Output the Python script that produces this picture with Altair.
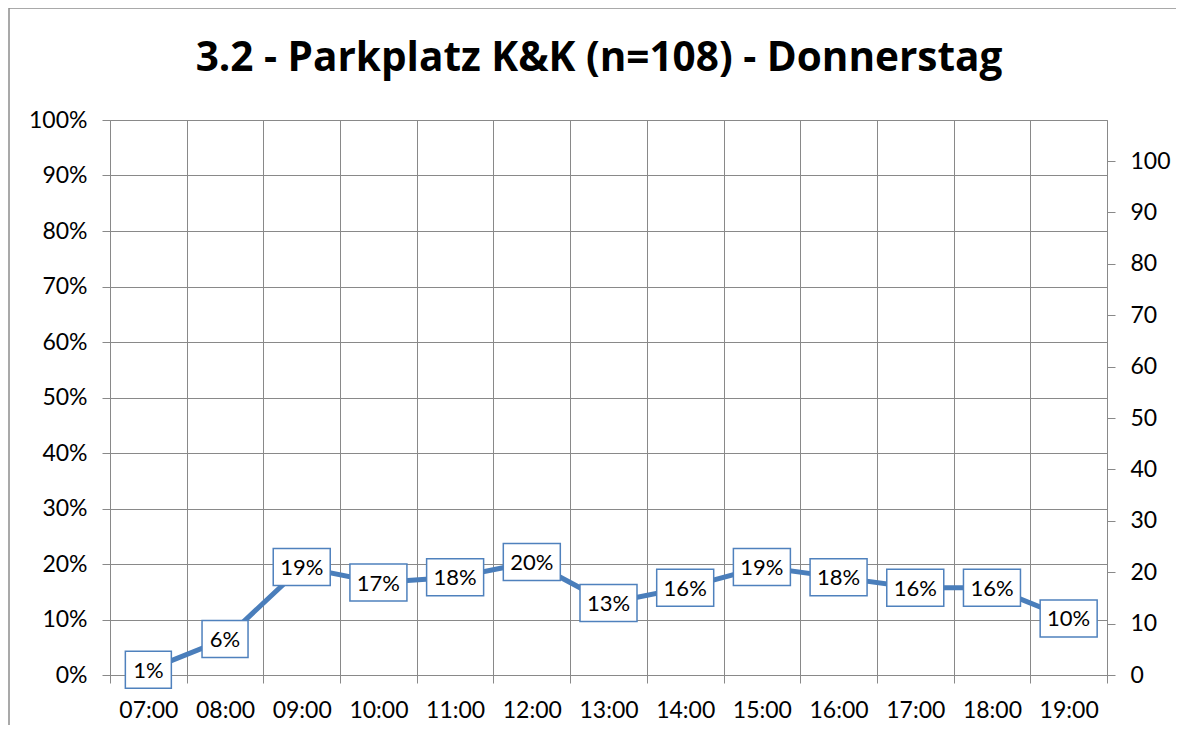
import altair as alt
import pandas as pd

# ---- data ----
times = ["07:00", "08:00", "09:00", "10:00", "11:00", "12:00", "13:00",
         "14:00", "15:00", "16:00", "17:00", "18:00", "19:00"]
counts = [1, 7, 21, 18, 19, 22, 14, 17, 21, 19, 17, 17, 11]
labels = ["1%", "6%", "19%", "17%", "18%", "20%", "13%",
          "16%", "19%", "18%", "16%", "16%", "10%"]
n_total = 108
title_text = "3.2 - Parkplatz K&K (n=108) - Donnerstag"
pct_ticks = [0, 0.1, 0.2, 0.3, 0.4, 0.5, 0.6, 0.7, 0.8, 0.9, 1.0]
count_ticks = [0, 10, 20, 30, 40, 50, 60, 70, 80, 90, 100]

df = pd.DataFrame({"time": times, "count": counts, "label": labels})
df["share"] = df["count"] / n_total
df["chars"] = df["label"].str.len()

GRID = "#898989"
LINE = "#4A7EBB"
BOX = "#4F81BD"
FONT = "Lato"
LABEL_SIZE = 23

x_enc = alt.X(
    "time:N", sort=times,
    scale=alt.Scale(type="band", paddingInner=0, paddingOuter=0),
    axis=alt.Axis(title=None, tickBand="extent", grid=True, gridColor=GRID,
                  gridWidth=1, domainColor=GRID, tickColor=GRID, tickSize=8,
                  labelFont=FONT, labelFontSize=LABEL_SIZE, labelColor="black",
                  labelPadding=16, labelAngle=0),
)

y_share = alt.Y(
    "share:Q",
    scale=alt.Scale(domain=[0, 1], nice=False, zero=True),
    axis=alt.Axis(orient="left", title=None, values=pct_ticks, format=".0%",
                  grid=True, gridColor=GRID, gridWidth=1, domainColor=GRID,
                  tickColor=GRID, tickSize=8, labelFont=FONT,
                  labelFontSize=LABEL_SIZE, labelColor="black", labelPadding=15),
)

y_count = alt.Y(
    "count:Q",
    scale=alt.Scale(domain=[0, n_total], nice=False, zero=True),
    axis=alt.Axis(orient="right", title=None, values=count_ticks, grid=False,
                  domainColor=GRID, tickColor=GRID, tickSize=8, labelFont=FONT,
                  labelFontSize=LABEL_SIZE, labelColor="black", labelPadding=15),
)

base = alt.Chart(df)
frame_src = alt.Chart(pd.DataFrame({"k": [0]}))

# outer chart frame (left and top edges; the others lie outside the window)
frame_left = frame_src.mark_rule(color="#8C8C8C", strokeWidth=1.5).encode(
    x=alt.value(-101), y=alt.value(-112), y2=alt.value(700))
frame_top = frame_src.mark_rule(color="#8C8C8C", strokeWidth=1.5).encode(
    x=alt.value(-101), x2=alt.value(1200), y=alt.value(-112))

line = base.mark_line(color=LINE, strokeWidth=5).encode(x=x_enc, y=y_count)

PATH3 = "M-1,-0.649L1,-0.649L1,0.649L-1,0.649Z"
PATH2 = "M-1,-0.804L1,-0.804L1,0.804L-1,0.804Z"

box3 = base.transform_filter("datum.chars >= 3").mark_point(
    shape=PATH3, size=57 * 57, filled=True, fill="white", stroke=BOX,
    strokeWidth=1.5, opacity=1
).encode(x=x_enc, y=y_share)

box2 = base.transform_filter("datum.chars < 3").mark_point(
    shape=PATH2, size=46 * 46, filled=True, fill="white", stroke=BOX,
    strokeWidth=1.5, opacity=1
).encode(x=x_enc, y=y_share)

text = base.mark_text(font=FONT, fontSize=22, color="black", align="center",
                      baseline="middle", dy=1).encode(x=x_enc, y=y_share, text="label:N")

left_group = alt.layer(box3, box2, text)

chart = alt.layer(frame_left, frame_top, line, left_group).resolve_scale(y="independent").properties(
    width=997, height=555,
    title=alt.TitleParams(text=title_text, font="Open Sans", fontSize=40.5, fontWeight="bold",
                          color="black", anchor="middle", frame="group",
                          dx=-9.5, offset=-72),
    padding={"left": 102, "top": 112, "right": 69, "bottom": 50},
    autosize=alt.AutoSizeParams(type="none"),
).configure_view(stroke=None).configure(background="white")

chart.save("out.html", embed_options={"renderer": "svg", "actions": False})
